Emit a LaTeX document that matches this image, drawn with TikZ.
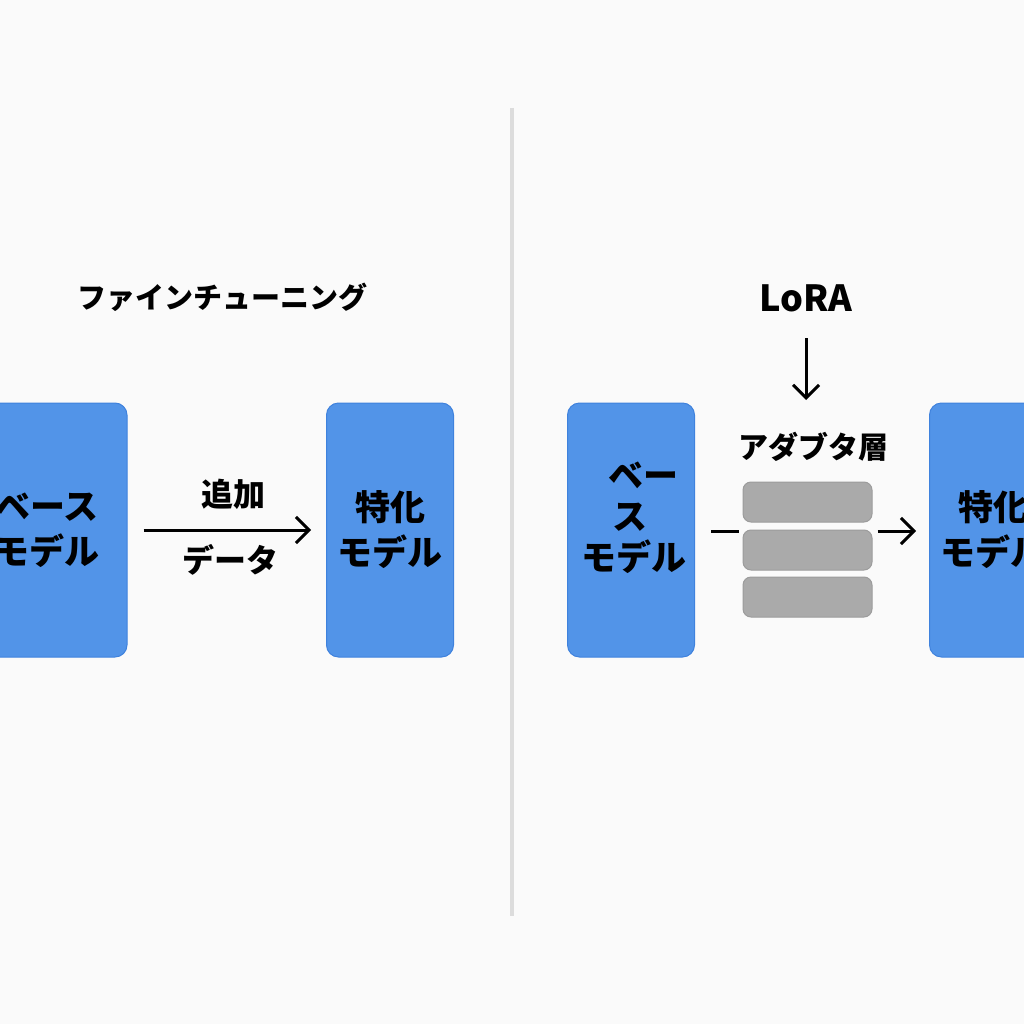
\documentclass[tikz,border=0pt]{standalone}
\usepackage{fontspec}
\setmainfont{Noto Sans CJK JP}
\usetikzlibrary{arrows.meta}
\definecolor{bg}{HTML}{FAFAFA}
\definecolor{boxblue}{HTML}{5294E8}
\definecolor{boxedge}{HTML}{3F82DD}
\definecolor{bargray}{HTML}{AAAAAA}
\definecolor{baredge}{HTML}{9C9C9C}
\definecolor{divider}{HTML}{DCDCDC}
\tikzset{
  model/.style={draw=boxedge, line width=1pt, fill=boxblue, rounded corners=12pt,
    minimum width=127pt, minimum height=254pt, inner sep=0pt},
  modeltext/.style={font=\fontsize{35}{45}\selectfont\bfseries, align=center, inner sep=0pt},
  bar/.style={draw=baredge, line width=1pt, fill=bargray, rounded corners=8pt,
    minimum width=129pt, minimum height=40pt, inner sep=0pt},
  title/.style={font=\fontsize{29}{34}\selectfont\bfseries, inner sep=0pt},
  lbl/.style={font=\fontsize{32}{36}\selectfont\bfseries, inner sep=0pt},
  conn/.style={line width=3pt, -{Straight Barb[length=13pt,width=26pt]}},
}
\begin{document}
\begin{tikzpicture}[x=1pt,y=-1pt]
\useasboundingbox (0,0) rectangle (1024,1024);
\fill[bg] (0,0) rectangle (1024,1024);
% divider
\draw[divider, line width=4pt] (512,108) -- (512,916);

% ---- left half ----
\node[title] (ft) at (222,297) {ファインチューニング};
\node[model] (base1) at (47,530) [minimum width=160pt] {};
\node[modeltext] (base1t) at (47,530) {ベース\\モデル};
\node[model] (spec1) at (390,530) {};
\node[modeltext] (spec1t) at (390,530) {特化\\モデル};
\draw[conn, shorten <=16pt, shorten >=15pt] (base1.east) -- (spec1.west);
\node[lbl] (add) at (233,494) {追加};
\node[lbl] (data) at (230,560) {データ};

% ---- right half ----
\node[font=\fontsize{36}{40}\selectfont\bfseries, inner sep=0pt] (lora) at (806,298) {LoRA};
\node[lbl, font=\fontsize{30}{34}\selectfont\bfseries] (adapt) at (813,447) {アダブタ層};
\coordinate (la1) at (806,338);
\coordinate (la2) at (806,400);
\draw[conn] (la1) -- (la2);
\node[model] (base2) at (631,530) {};
\node[modeltext, align=left, font=\fontsize{35}{41}\selectfont\bfseries] (base2t) at (634,518)
  {\hspace*{27pt}ベー\\\hspace*{31pt}ス\\モデル};
\node[bar] (bar1) at (807.5,502) {};
\node[bar] (bar2) at (807.5,550) {};
\node[bar] (bar3) at (807.5,597) {};
\node[model] (spec2) at (993,530) {};
\node[modeltext] (spec2t) at (993,530) {特化\\モデル};
\draw[line width=3pt, shorten <=16pt, shorten >=4pt] (base2.east |- 0,531) -- (bar2.west |- 0,531);
\draw[conn, shorten <=5pt, shorten >=13pt] (bar2.east |- 0,531) -- (spec2.west |- 0,531);
\end{tikzpicture}
\end{document}
